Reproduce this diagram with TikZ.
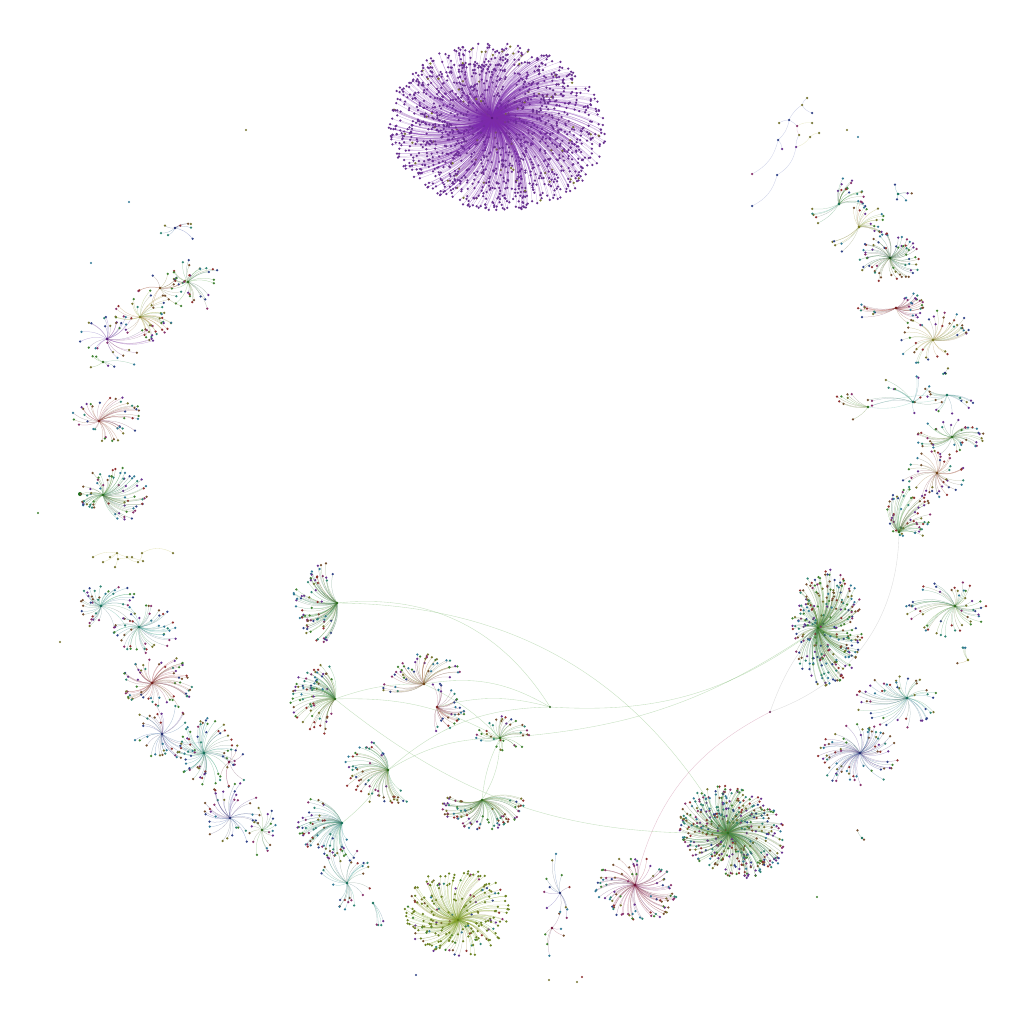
\documentclass[tikz,border=0pt]{standalone}
\definecolor{lc1}{HTML}{7A3BA8}
\definecolor{lc2}{HTML}{4C9A3C}
\definecolor{lc3}{HTML}{3C9E8A}
\definecolor{lc4}{HTML}{3A4FA0}
\definecolor{lc5}{HTML}{8C8A3A}
\definecolor{lc6}{HTML}{A03C80}
\definecolor{lc7}{HTML}{8A5E3A}
\definecolor{lc8}{HTML}{3C8FB0}
\definecolor{lc9}{HTML}{A83A3A}
\definecolor{lc10}{HTML}{7F9A2A}
\definecolor{cpur}{HTML}{7B1FB0}
\definecolor{cgrn}{HTML}{3E9A2A}
\definecolor{colv}{HTML}{8AB020}
\definecolor{cmag}{HTML}{A01850}
\definecolor{cred}{HTML}{A82828}
\definecolor{cblu}{HTML}{3040A0}
\definecolor{cteal}{HTML}{20A080}
\definecolor{cyel}{HTML}{B0B030}
\definecolor{cbrn}{HTML}{A06020}
\definecolor{cdg}{HTML}{1E6E1E}
\tikzset{
  edge/.style={line width=0.25pt},
  link/.style={line width=0.35pt, draw=cgrn!70},
  dot/.style={fill=#1!85!black},
}
\def\lcdefault{\pgfmathrandominteger\k{1}{9}}
\def\lcpurple{\pgfmathsetmacro\tmpr{rnd}\ifdim\tmpr pt<0.05pt \def\k{5}\else\def\k{1}\fi}
\def\lcolive{\pgfmathsetmacro\tmpr{rnd}\ifdim\tmpr pt<0.7pt \def\k{10}\else\pgfmathrandominteger\k{1}{9}\fi}
\let\lcpick\lcdefault
% \clus{hub}{cx}{cy}{rx}{ry}{rot}{a0}{a1}{n} then \clusB{color}{bend}{rmin}
\newcommand\clus[9]{\def\hN{#1}\def\cX{#2}\def\cY{#3}\def\rX{#4}\def\rY{#5}\def\rT{#6}\def\aA{#7}\def\aB{#8}\def\nN{#9}}
\newcommand\clusB[3]{%
  \foreach \i in {1,...,\nN}{%
    \lcpick
    \pgfmathsetmacro\aa{\aA+(\aB-\aA)*rnd}%
    \pgfmathsetmacro\rr{#3+(1-#3)*sqrt(rnd)}%
    \pgfmathsetmacro\uu{\rr*\rX*cos(\aa)}%
    \pgfmathsetmacro\vv{\rr*\rY*sin(\aa)}%
    \pgfmathsetmacro\lx{\cX+\uu*cos(\rT)-\vv*sin(\rT)}%
    \pgfmathsetmacro\ly{\cY+\uu*sin(\rT)+\vv*cos(\rT)}%
    \coordinate (lf) at (\lx,\ly);
    \draw[edge,draw=#1!60!lc\k] (\hN) to[bend left=#2] (lf);
    \fill[dot=lc\k] (lf) circle (1.25);
  }%
  \fill[#1!70!black] (\hN) circle (1.4);
}
\begin{document}
\begin{tikzpicture}[x=1bp,y=-1bp,draw opacity=0.45]
\pgfmathsetseed{11}
\fill[white] (0,0) rectangle (1024,1024);
\useasboundingbox (0,0) rectangle (1024,1024);

% hubs
\coordinate (P) at (492,118);
\coordinate (GB) at (728,833);
\coordinate (GR) at (818,628);
\coordinate (OL) at (458,920);
\coordinate (MG) at (635,885);
\coordinate (L1) at (337,603);
\coordinate (L2) at (335,699);
\coordinate (BR1) at (424,684);
\coordinate (RD1) at (437,707);
\coordinate (G3) at (500,738);
\coordinate (G4) at (388,770);
\coordinate (G5) at (482,800);
\coordinate (T1) at (342,823);
\coordinate (G6) at (347,883);
\coordinate (S1) at (373,903);
\coordinate (B1) at (560,893);
\coordinate (PK1) at (552,928);
\coordinate (X1) at (550,707);
\coordinate (MX) at (770,712);
\coordinate (G7) at (839,204);
\coordinate (TS) at (898,194);
\coordinate (Y1) at (859,227);
\coordinate (DG) at (890,258);
\coordinate (R1) at (896,308);
\coordinate (Y2) at (933,340);
\coordinate (CH1) at (868,407);
\coordinate (CH2) at (913,402);
\coordinate (CH3) at (947,395);
\coordinate (PU3) at (945,373);
\coordinate (G8) at (952,437);
\coordinate (BR2) at (937,473);
\coordinate (G9) at (899,532);
\coordinate (G10) at (955,606);
\coordinate (S2) at (968,660);
\coordinate (T2) at (907,698);
\coordinate (B2) at (860,753);
\coordinate (S3) at (862,838);
\coordinate (B3) at (175,228);
\coordinate (G11) at (188,282);
\coordinate (BR3) at (160,288);
\coordinate (OL2) at (140,317);
\coordinate (PU2) at (107,339);
\coordinate (GC) at (103,362);
\coordinate (R2) at (99,421);
\coordinate (G12) at (103,495);
\coordinate (OC) at (118,559);
\coordinate (T3) at (101,606);
\coordinate (T4) at (139,627);
\coordinate (R3) at (152,683);
\coordinate (B4) at (162,734);
\coordinate (G13) at (204,753);
\coordinate (PK) at (229,762);
\coordinate (B5) at (230,818);
\coordinate (G14) at (262,830);

% blue chain (top right)
\foreach \n/\x/\y in {1/807/98,2/802/105,3/812/113,4/789/120,5/779/123,6/797/126,7/812/123,8/799/135,9/819/133,10/778/140,11/782/149,12/796/147,13/810/137,14/752/174,15/777/175,16/752/206}{
  \coordinate (bc\n) at (\x,\y);
}
\begin{scope}[line width=0.3pt,draw=cblu!55]
\draw (bc2) to[bend left=20] (bc1);
\draw (bc2) to[bend right=20] (bc3);
\draw (bc2) to[bend right=15] (bc4);
\draw (bc4) to[bend right=15] (bc5);
\draw (bc4) to[bend left=10] (bc6);
\draw (bc4) to[bend left=20] (bc10);
\draw (bc10) to[bend left=20] (bc11);
\draw (bc10) to[bend left=25] (bc14);
\draw[draw=cyel!60] (bc6) to[bend left=20] (bc7);
\draw[draw=cmag!50] (bc6) to[bend right=20] (bc8);
\draw (bc8) to[bend right=15] (bc12);
\draw[draw=cyel!60] (bc12) to[bend right=20] (bc13);
\draw[draw=cyel!60] (bc13) to[bend left=20] (bc9);
\draw (bc12) to[bend left=25] (bc15);
\draw (bc15) to[bend left=25] (bc16);
\end{scope}
\foreach \n/\c in {1/lc5,2/lc5,3/lc4,4/lc4,5/lc5,6/lc6,7/lc5,8/lc5,9/lc5,10/lc4,11/lc1,12/lc1,13/lc5,14/lc6,15/lc4,16/lc4}{
  \fill[dot=\c] (bc\n) circle (1.25);
}

% olive chain (left)
\foreach \n/\x/\y in {1/93/557,2/103/562,3/110/557,4/117/553,5/118/559,6/115/567,7/127/557,8/132/557,9/138/562,10/143/561,11/142/553,12/173/553}{
  \coordinate (oc\n) at (\x,\y);
}
\begin{scope}[line width=0.3pt,draw=cyel!70]
\draw (oc4) to[bend right=20] (oc1);
\draw (oc4) to[bend left=15] (oc2);
\draw (oc4) to (oc3);
\draw (oc4) to[bend left=20] (oc6);
\draw (oc4) to[bend right=15] (oc8);
\draw (oc5) to[bend left=15] (oc10);
\draw (oc7) to[bend right=20] (oc9);
\draw (oc9) to[bend right=25] (oc11);
\draw (oc11) to[bend left=30] (oc12);
\end{scope}
\foreach \n in {1,...,12}{\fill[dot=lc5] (oc\n) circle (1.25);}

% long links
\begin{scope}[link]
\draw (L1) to[bend left=32] (X1);
\draw (L1) to[bend left=30] (GB);
\draw (X1) to[bend right=20] (GR);
\draw (G3) to[bend right=15] (GR);
\draw (L2) to[bend right=20] (GB);
\draw (L2) to[bend left=10] (BR1);
\draw (BR1) to[bend left=20] (X1);
\draw (BR1) to[bend left=10] (G3);
\draw (RD1) to[bend left=15] (X1);
\draw (G4) to[bend left=20] (X1);
\draw (G4) to[bend left=15] (G3);
\draw (T1) to[bend right=10] (G4);
\draw (G5) to[bend right=15] (G3);
\draw (G5) to[bend left=10] (G3);
\draw (L2) to[bend left=15] (G3);
\draw[draw=cmag!60] (MG) to[bend left=25] (MX);
\draw[draw=gray!60] (MX) to[bend left=10] (GR);
\draw[draw=gray!60] (G9) to[bend left=35] (MX);
\draw[draw=cteal!60] (CH1) to[bend right=15] (CH2);
\draw[draw=cteal!60] (CH2) to[bend right=15] (CH3);
\draw[draw=cteal!60] (CH1) to[bend left=10] (CH3);
\draw[draw=cdg] (G12) -- (80,494);
\end{scope}
\fill[lc2!70!black] (X1) circle (1.2);
\fill[lc6!70!black] (MX) circle (1.2);
\fill[cdg] (80,494) circle (2);

% big purple
\begin{scope}[draw opacity=0.4]
\let\lcpick\lcpurple
\clus{P}{497}{127}{109}{84}{6}{0}{360}{1400}\clusB{cpur}{22}{0.05}
\let\lcpick\lcdefault
\end{scope}

% big clusters
\clus{GB}{733}{832}{56}{44}{25}{0}{360}{380}\clusB{cgrn}{20}{0.08}
\clus{GR}{828}{627}{36}{60}{0}{0}{360}{260}\clusB{cgrn}{-18}{0.1}
\let\lcpick\lcolive
\clus{OL}{457}{913}{53}{45}{0}{0}{360}{220}\clusB{colv}{22}{0.08}
\let\lcpick\lcdefault
\clus{MG}{636}{890}{41}{33}{10}{0}{360}{90}\clusB{cmag}{-20}{0.3}

% central fans
\clus{L1}{337}{603}{45}{42}{0}{95}{265}{70}\clusB{cgrn}{20}{0.3}
\clus{L2}{335}{699}{46}{36}{0}{100}{265}{70}\clusB{cgrn}{-20}{0.3}
\clus{BR1}{424}{684}{42}{30}{0}{150}{340}{45}\clusB{cbrn}{20}{0.35}
\clus{RD1}{437}{707}{29}{24}{0}{-100}{100}{30}\clusB{cred}{-20}{0.35}
\clus{G3}{503}{734}{28}{18}{0}{0}{360}{35}\clusB{cgrn}{20}{0.3}
\clus{G4}{388}{770}{46}{36}{0}{60}{260}{55}\clusB{cgrn}{-22}{0.3}
\clus{G5}{482}{800}{45}{30}{0}{-10}{190}{75}\clusB{cgrn}{22}{0.3}
\clus{T1}{342}{823}{45}{40}{0}{70}{230}{60}\clusB{cteal}{-22}{0.3}
\clus{G6}{345}{878}{28}{32}{0}{0}{360}{28}\clusB{cteal}{20}{0.3}
\clus{S1}{375}{900}{18}{28}{0}{-80}{120}{4}\clusB{cteal}{15}{0.5}
\clus{B1}{558}{893}{14}{40}{0}{0}{360}{12}\clusB{cblu}{15}{0.3}
\clus{PK1}{554}{930}{10}{30}{0}{0}{360}{6}\clusB{cmag}{-15}{0.3}

% right ring
\clus{G7}{839}{204}{28}{28}{0}{-100}{10}{18}\clusB{cgrn}{20}{0.4}
\clus{G7}{839}{204}{30}{28}{0}{130}{170}{5}\clusB{cteal}{15}{0.5}
\clus{TS}{900}{192}{12}{10}{0}{0}{360}{5}\clusB{cteal}{15}{0.5}
\clus{Y1}{859}{227}{28}{26}{0}{-110}{20}{20}\clusB{cyel}{20}{0.4}
\clus{Y1}{859}{227}{32}{30}{0}{120}{160}{5}\clusB{cyel}{15}{0.6}
\clus{DG}{890}{258}{32}{25}{0}{0}{360}{60}\clusB{cdg}{-20}{0.3}
\clus{R1}{896}{308}{28}{22}{0}{-70}{60}{25}\clusB{cred}{-20}{0.4}
\clus{R1}{896}{308}{38}{22}{0}{150}{200}{10}\clusB{cred}{15}{0.5}
\clus{Y2}{933}{337}{38}{25}{-20}{0}{360}{40}\clusB{cyel}{-20}{0.35}
\clus{CH1}{860}{405}{30}{15}{0}{100}{260}{8}\clusB{cgrn}{15}{0.4}
\clus{CH2}{905}{395}{40}{22}{0}{0}{360}{14}\clusB{cteal}{-15}{0.3}
\clus{CH3}{950}{395}{28}{20}{0}{0}{360}{14}\clusB{cteal}{15}{0.3}
\clus{PU3}{948}{371}{14}{4}{0}{0}{360}{3}\clusB{cblu}{15}{0.5}
\clus{G8}{950}{437}{34}{18}{0}{0}{360}{40}\clusB{cgrn}{20}{0.3}
\clus{BR2}{932}{474}{34}{24}{0}{0}{360}{40}\clusB{cbrn}{-20}{0.3}
\clus{G9}{909}{514}{22}{28}{0}{0}{360}{60}\clusB{cgrn}{20}{0.2}
\clus{G10}{947}{608}{41}{29}{0}{0}{360}{50}\clusB{cgrn}{-20}{0.3}
\clus{S2}{960}{655}{16}{10}{0}{0}{360}{4}\clusB{cyel}{15}{0.5}
\clus{T2}{896}{702}{43}{27}{0}{0}{360}{45}\clusB{cteal}{20}{0.3}
\clus{B2}{858}{755}{40}{35}{0}{0}{360}{70}\clusB{cblu}{-22}{0.25}
\clus{S3}{860}{834}{6}{8}{0}{0}{360}{2}\clusB{cteal}{15}{0.5}

% left ring
\clus{B3}{180}{231}{21}{12}{0}{0}{360}{8}\clusB{cblu}{20}{0.3}
\clus{G11}{195}{285}{28}{27}{0}{0}{360}{30}\clusB{cgrn}{20}{0.3}
\clus{BR3}{163}{290}{26}{24}{0}{0}{360}{15}\clusB{cbrn}{-20}{0.3}
\clus{OL2}{145}{314}{31}{24}{0}{0}{360}{40}\clusB{cyel}{20}{0.3}
\clus{PU2}{117}{337}{39}{22}{0}{0}{360}{30}\clusB{cpur}{-20}{0.3}
\clus{GC}{108}{362}{30}{7}{0}{0}{360}{6}\clusB{cgrn}{15}{0.4}
\clus{R2}{107}{418}{36}{24}{0}{0}{360}{40}\clusB{cred}{20}{0.3}
\clus{G12}{114}{495}{35}{28}{0}{0}{360}{70}\clusB{cgrn}{-20}{0.25}
\clus{T3}{108}{607}{36}{23}{0}{0}{360}{40}\clusB{cteal}{20}{0.3}
\clus{T4}{146}{629}{34}{25}{0}{0}{360}{45}\clusB{cteal}{-20}{0.3}
\clus{R3}{160}{683}{38}{28}{0}{0}{360}{60}\clusB{cred}{20}{0.3}
\clus{B4}{168}{731}{37}{29}{0}{0}{360}{35}\clusB{cblu}{-20}{0.3}
\clus{G13}{207}{751}{31}{34}{0}{0}{360}{60}\clusB{cteal}{20}{0.3}
\clus{PK}{232}{764}{17}{24}{0}{0}{360}{8}\clusB{cmag}{-20}{0.4}
\clus{B5}{233}{814}{30}{33}{0}{0}{360}{35}\clusB{cblu}{20}{0.3}
\clus{G14}{262}{830}{15}{27}{0}{0}{360}{18}\clusB{cgrn}{-20}{0.3}

% isolated nodes
\foreach \x/\y/\c in {246/130/lc5,129/202/lc8,91/263/lc8,38/513/lc2,60/642/lc5,416/975/lc4,549/980/lc5,577/982/lc5,582/977/lc9,817/897/lc2,847/130/lc5,858/137/lc8}{
  \coordinate (iso) at (\x,\y);
  \fill[dot=\c] (iso) circle (1.2);
}
\end{tikzpicture}
\end{document}
